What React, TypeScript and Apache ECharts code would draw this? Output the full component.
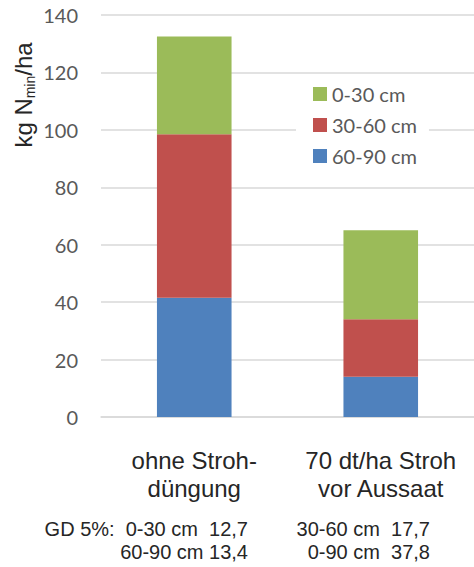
import React, { useEffect, useRef } from "react";
import * as echarts from "echarts";

const categories = ["ohne Stroh-\ndüngung", "70 dt/ha Stroh\nvor Aussaat"];
const seriesNames = ["60-90 cm", "30-60 cm", "0-30 cm"];
const values6090 = [41.5, 14];
const values3060 = [57, 20];
const values030 = [34, 31];
const legendOrder = ["0-30 cm", "30-60 cm", "60-90 cm"];
const yTicks = { min: 0, max: 140, interval: 20 };
const gdLeft = ["GD 5%:  0-30 cm  12,7", "60-90 cm 13,4"];
const gdRight = ["30-60 cm  17,7", "0-90 cm  37,8"];

const colors: Record<string, string> = {
  "60-90 cm": "#4F81BD",
  "30-60 cm": "#C0504D",
  "0-30 cm": "#9BBB59",
};

export default function App() {
  const ref = useRef<HTMLDivElement>(null);
  useEffect(() => {
    document.body.style.margin = "0";
    if (!ref.current) return;
    const chart = echarts.init(ref.current, null, { renderer: "svg" });
    const data = [values6090, values3060, values030];
    const textFont = "'Liberation Sans', Arial, sans-serif";
    chart.setOption({
      animation: false,
      backgroundColor: "#ffffff",
      grid: { left: 101, top: 15, width: 378, bottom: 150, containLabel: false },
      legend: {
        data: legendOrder,
        orient: "vertical",
        left: 296,
        top: 79,
        padding: [5, 12, 5, 17],
        backgroundColor: "#ffffff",
        itemWidth: 14,
        itemHeight: 14,
        itemGap: 11,
        icon: "rect",
        textStyle: { color: "#595959", fontSize: 20, fontFamily: "Lato", lineHeight: 20 },
      },
      xAxis: {
        type: "category",
        data: categories,
        axisLine: { show: true, lineStyle: { color: "#d9d9d9", width: 1.5 } },
        axisTick: { show: false },
        axisLabel: {
          color: "#262626",
          fontSize: 24,
          fontFamily: textFont,
          lineHeight: 28,
          margin: 29,
          interval: 0,
        },
      },
      yAxis: {
        type: "value",
        min: yTicks.min,
        max: yTicks.max,
        interval: yTicks.interval,
        axisLine: { show: false },
        axisTick: { show: false },
        splitLine: { lineStyle: { color: "#d9d9d9", width: 1.5 } },
        axisLabel: { color: "#595959", fontSize: 20, fontFamily: "Lato", margin: 23 },
      },
      series: seriesNames.map((name, i) => ({
        name,
        type: "bar",
        stack: "total",
        barWidth: "40%",
        data: data[i],
        itemStyle: { color: colors[name] },
      })),
      graphic: [
        {
          type: "group",
          x: 23,
          y: 95,
          rotation: Math.PI / 2,
          children: [
            {
              type: "text",
              x: -52.6,
              y: 0,
              style: { text: "kg N", font: `24px ${textFont}`, fill: "#262626", align: "left", verticalAlign: "middle" },
            },
            {
              type: "text",
              x: -3.3,
              y: 7,
              style: { text: "min", font: `14px ${textFont}`, fill: "#262626", align: "left", verticalAlign: "middle" },
            },
            {
              type: "text",
              x: 19.3,
              y: 0,
              style: { text: "/ha", font: `24px ${textFont}`, fill: "#262626", align: "left", verticalAlign: "middle" },
            },
          ],
        },
        ...gdLeft.map((t, i) => ({
          type: "text",
          x: 248,
          y: 529 + i * 23,
          style: { text: t, font: `20px ${textFont}`, fill: "#262626", align: "right", verticalAlign: "middle" },
        })),
        ...gdRight.map((t, i) => ({
          type: "text",
          x: 430,
          y: 529 + i * 23,
          style: { text: t, font: `20px ${textFont}`, fill: "#262626", align: "right", verticalAlign: "middle" },
        })),
      ],
    });
    return () => chart.dispose();
  }, []);
  return <div ref={ref} style={{ width: 474, height: 567 }} />;
}
